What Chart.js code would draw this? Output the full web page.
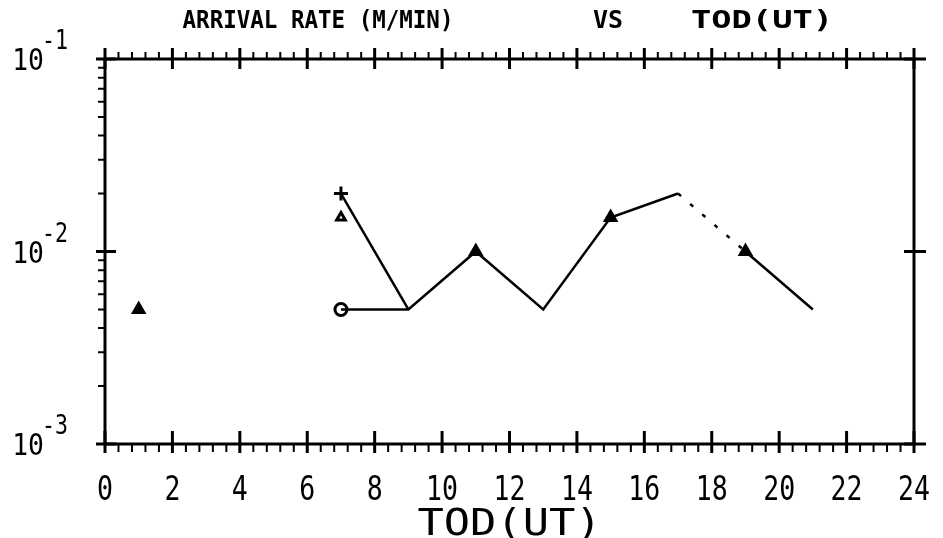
<!DOCTYPE html>
<html>
<head>
<meta charset="utf-8">
<script src="https://cdn.jsdelivr.net/npm/chart.js@4"></script>
<style>
  body { margin: 0; background: #fff; }
</style>
</head>
<body>
<canvas id="rate-chart" width="943" height="538"></canvas>
<script>
// main line (circle start at 7h)
const hours = [7, 9, 11, 13, 15, 17, 19, 21];
const rate = [0.005, 0.005, 0.01, 0.005, 0.015, 0.02, 0.01, 0.005];
// second line (plus start at 7h)
const plusHours = [7, 9];
const plusRate = [0.02, 0.005];
// single markers
const triHours = [7];
const triRate = [0.015];
const dotHours = [1, 11, 15, 19];
const dotRate = [0.005, 0.01, 0.015, 0.01];

const xTicks = [0, 2, 4, 6, 8, 10, 12, 14, 16, 18, 20, 22, 24];
const yTicks = [0.001, 0.01, 0.1];
const yExp = ['-3', '-2', '-1'];

const FONT = '"DejaVu Sans Mono"';
const pts = (xs, ys) => xs.map((x, i) => ({ x: x, y: ys[i] }));

// stretched/condensed text, baseline at y
const txt = (ctx, s, x, y, px, sx, align, weight) => {
    ctx.save();
    ctx.translate(x, y);
    ctx.scale(sx, 1);
    ctx.font = (weight || '') + ' ' + px + 'px ' + FONT;
    ctx.textAlign = align;
    ctx.textBaseline = 'alphabetic';
    ctx.fillStyle = '#000';
    ctx.fillText(s, 0, 0);
    ctx.restore();
};

const frame = {
    id: 'frame',
    afterDraw(chart) {
        const ctx = chart.ctx;
        const a = chart.chartArea;
        const xs = chart.scales.x, ys = chart.scales.y;
        ctx.save();
        ctx.strokeStyle = '#000';
        ctx.lineCap = 'butt';

        // box
        ctx.lineWidth = 3;
        ctx.strokeRect(a.left, a.top, a.right - a.left, a.bottom - a.top);

        // x minor ticks (outward), every 0.4
        ctx.lineWidth = 2;
        ctx.beginPath();
        for (let i = 0; i <= 60; i++) {
            if (i % 5 === 0) continue;
            const px = xs.getPixelForValue(i * 0.4);
            ctx.moveTo(px, a.bottom); ctx.lineTo(px, a.bottom + 8);
            ctx.moveTo(px, a.top); ctx.lineTo(px, a.top - 7);
        }
        // y minor ticks on left (outward)
        for (let d = 0; d < yTicks.length - 1; d++) {
            for (let m = 2; m <= 9; m++) {
                const py = ys.getPixelForValue(yTicks[d] * m);
                ctx.moveTo(a.left, py); ctx.lineTo(a.left - 7, py);
            }
        }
        ctx.stroke();

        // major ticks (crossing)
        ctx.lineWidth = 3;
        ctx.beginPath();
        xTicks.forEach(v => {
            const px = xs.getPixelForValue(v);
            ctx.moveTo(px, a.bottom - 13); ctx.lineTo(px, a.bottom + 9);
            ctx.moveTo(px, a.top - 11); ctx.lineTo(px, a.top + 10);
        });
        yTicks.forEach(v => {
            const py = ys.getPixelForValue(v);
            ctx.moveTo(a.left - 9, py); ctx.lineTo(a.left + 11, py);
            ctx.moveTo(a.right - 10, py); ctx.lineTo(a.right + 12, py);
        });
        ctx.stroke();

        // x tick labels
        xTicks.forEach(v => {
            txt(ctx, String(v), xs.getPixelForValue(v), a.bottom + 56, 34, 0.78, 'center');
        });
        // y tick labels 10^n
        yTicks.forEach((v, i) => {
            const py = ys.getPixelForValue(v);
            txt(ctx, '10', 28, py + 11, 31, 0.85, 'center');
            txt(ctx, yExp[i], 55, py - 10, 27, 0.8, 'center');
        });

        // axis title and chart title
        txt(ctx, 'TOD(UT)', (a.left + a.right) / 2, 535, 38, 1.15, 'center');
        txt(ctx, 'ARRIVAL RATE (M/MIN)', 318, 28, 25, 0.9, 'center', 'bold');
        txt(ctx, 'VS', 608, 28, 25, 1.0, 'center', 'bold');
        txt(ctx, 'TOD(UT)', 762, 28, 25, 1.35, 'center', 'bold');
        ctx.restore();
    }
};

const config = {
    type: 'line',
    data: {
        datasets: [{
            label: 'rate',
            data: pts(hours, rate),
            borderColor: '#000',
            borderWidth: 2.5,
            pointRadius: 0,
            tension: 0,
            segment: {
                // faint dashed stretch in the original trace
                borderDash: c => (c.p0.parsed.x === 17 ? [4, 12] : undefined)
            }
        }, {
            label: 'plus line',
            data: pts(plusHours, plusRate),
            borderColor: '#000',
            borderWidth: 2.5,
            pointRadius: 0,
            tension: 0
        }, {
            label: 'circle',
            data: pts([hours[0]], [rate[0]]),
            showLine: false,
            pointStyle: 'circle',
            pointRadius: 6,
            borderWidth: 3,
            borderColor: '#000',
            backgroundColor: '#fff'
        }, {
            label: 'plus',
            data: pts([plusHours[0]], [plusRate[0]]),
            showLine: false,
            pointStyle: 'cross',
            pointRadius: 7,
            borderWidth: 3,
            borderColor: '#000'
        }, {
            label: 'triangle',
            data: pts(triHours, triRate),
            showLine: false,
            pointStyle: 'triangle',
            pointRadius: 5,
            borderWidth: 3,
            borderColor: '#000',
            backgroundColor: '#fff'
        }, {
            label: 'dots',
            data: pts(dotHours, dotRate),
            showLine: false,
            pointStyle: 'triangle',
            pointRadius: 7,
            borderWidth: 2,
            borderColor: '#000',
            backgroundColor: '#000'
        }]
    },
    options: {
        responsive: false,
        animation: false,
        layout: {
            padding: { left: 105, right: 29, top: 59, bottom: 94 }
        },
        plugins: {
            legend: { display: false },
            tooltip: { enabled: false }
        },
        scales: {
            x: { type: 'linear', min: 0, max: 24, display: false },
            y: { type: 'logarithmic', min: 0.001, max: 0.1, display: false }
        }
    },
    plugins: [frame]
};

new Chart(document.getElementById('rate-chart').getContext('2d'), config);
</script>
</body>
</html>
